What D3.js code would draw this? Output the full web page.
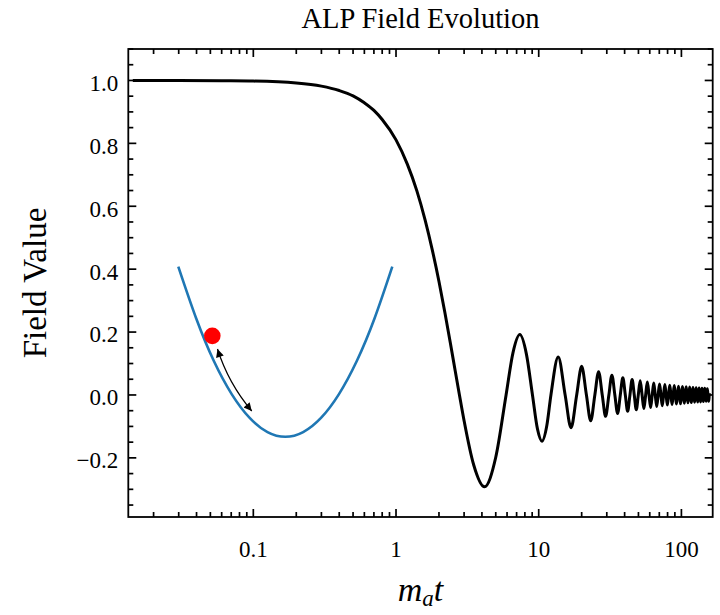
<!DOCTYPE html>
<html>
<head>
<meta charset="utf-8">
<script src="https://cdn.jsdelivr.net/npm/d3@7"></script>
<style>
  html, body { margin: 0; padding: 0; background: #fff; }
  svg { display: block; }
  text { font-family: "Liberation Serif", "DejaVu Serif", serif; fill: #000; }
</style>
</head>
<body>
<div id="chart"></div>
<script>
// ---- data ----
// black curve: field value vs m_a t (flat, roll-down, then damped oscillation)
const fieldT = [
  0.0143, 0.03, 0.06, 0.1, 0.2, 0.3, 0.4, 0.5, 0.6, 0.7, 0.8, 1.0, 1.2, 1.4, 1.6, 1.8,
  2.0, 2.2, 2.4, 2.6, 2.783, 3.0, 3.5, 4.168, 5.0, 5.906, 6.6, 7.373, 8.2, 9.042,
  9.8, 10.541, 11.4, 12.18, 13.696, 15.32, 16.847, 18.457, 19.995, 21.598, 23.141,
  24.74, 26.286, 27.881, 29.43, 31.023, 32.574, 34.165, 35.718, 37.306, 38.86,
  40.448, 42.003, 43.59, 45.146, 46.731, 48.288, 49.873, 51.43, 53.014, 54.573,
  56.156, 57.716, 59.297, 60.857, 62.439, 64.0, 65.58, 67.141, 68.722, 70.284,
  71.863, 73.425, 75.005, 76.567, 78.147, 79.709, 81.288, 82.851, 84.43, 85.993,
  87.571, 89.135, 90.713, 92.277, 93.855, 95.418, 96.996, 98.56, 100.14, 101.7,
  103.28, 104.84, 106.42, 107.99, 109.56, 111.13, 112.7, 114.27, 115.85, 117.41,
  118.99, 120.55, 122.13, 123.69, 125.27, 126.84, 128.41, 129.98, 131.55, 133.12,
  134.7, 136.26, 137.84, 139.4, 140.98, 142.54, 144.12, 145.68, 147.26, 148.83,
  150.4, 151.97, 153.54, 155.11, 157.0
];
const fieldValue = [
  1.0, 1.0, 0.999, 0.998, 0.992, 0.982, 0.968, 0.951, 0.929, 0.905, 0.876, 0.811, 0.734, 0.649, 0.556, 0.459,
  0.361, 0.262, 0.167, 0.076, 0.0, -0.082, -0.222, -0.292, -0.198, 0.0, 0.134, 0.192, 0.130, 0.0,
  -0.108, -0.147, -0.097, 0.0, 0.121, 0.0, -0.104, 0.0, 0.091, 0.0, -0.082,
  0.0, 0.074, 0.0, -0.068, 0.0, 0.063, 0.0, -0.059, 0.0, 0.055,
  0.0, -0.052, 0.0, 0.049, 0.0, -0.047, 0.0, 0.045, 0.0, -0.043,
  0.0, 0.041, 0.0, -0.040, 0.0, 0.038, 0.0, -0.037, 0.0, 0.035,
  0.0, -0.034, 0.0, 0.033, 0.0, -0.032, 0.0, 0.031, 0.0, -0.030,
  0.0, 0.030, 0.0, -0.029, 0.0, 0.028, 0.0, -0.028, 0.0, 0.027,
  0.0, -0.026, 0.0, 0.026, 0.0, -0.025, 0.0, 0.025, 0.0, -0.024,
  0.0, 0.024, 0.0, -0.023, 0.0, 0.023, 0.0, -0.022, 0.0, 0.022,
  0.0, -0.022, 0.0, 0.021, 0.0, -0.021, 0.0, 0.021, 0.0, -0.020,
  0.0, 0.020, 0.0, -0.020, 0.006
];

// blue sketch of the potential well
const potentialT = [0.0298, 0.0398, 0.053, 0.0707, 0.0943, 0.1257, 0.1676, 0.2235, 0.298, 0.3974, 0.53, 0.7067, 0.942];
const potentialValue = [0.408, 0.243, 0.107, 0.002, -0.073, -0.118, -0.133, -0.118, -0.073, 0.002, 0.107, 0.243, 0.408];

// red ball and the double-headed arrow beside it
const ballPoint = [0.0516, 0.188];
const arrowFrom = [0.0561, 0.146];
const arrowTo = [0.0975, -0.051];

// axes
const xDomain = [0.0133, 165.7];
const yDomain = [-0.388, 1.1];
const xTickValues = [0.1, 1, 10, 100];
const xTickLabels = ["0.1", "1", "10", "100"];
const yTickValues = [-0.2, 0.0, 0.2, 0.4, 0.6, 0.8, 1.0];
const yTickLabels = ["\u22120.2", "0.0", "0.2", "0.4", "0.6", "0.8", "1.0"];

// ---- layout ----
const width = 720;
const height = 615;
const margin = { top: 49, right: 7.3, bottom: 98, left: 128.3 };
const chartWidth = width - margin.left - margin.right;
const chartHeight = height - margin.top - margin.bottom;
const majorLen = 8;
const minorLen = 5;

const svg = d3.select("#chart").append("svg")
    .attr("width", width)
    .attr("height", height);

const g = svg.append("g")
    .attr("transform", `translate(${margin.left}, ${margin.top})`);

// 1) Scales
const x = d3.scaleLog().domain(xDomain).range([0, chartWidth]);
const y = d3.scaleLinear().domain(yDomain).range([chartHeight, 0]);

// minor ticks: 2..9 in each decade, every 0.05 on y
const xMinor = x.ticks(20).filter(v => !xTickValues.some(m => Math.abs(m - v) / m < 1e-9));
const yMinor = d3.range(-0.35, 1.1001, 0.05)
    .map(v => +v.toFixed(2))
    .filter(v => !yTickValues.some(m => Math.abs(m - v) < 1e-9));

// 2) Clip
const defs = svg.append("defs");
defs.append("clipPath").attr("id", "plot-clip")
    .append("rect").attr("width", chartWidth).attr("height", chartHeight);

// 3) Curves
const line = d3.line()
    .x(d => x(d[0]))
    .y(d => y(d[1]));

g.append("path")
    .datum(fieldT.map((t, i) => [t, fieldValue[i]]))
    .attr("clip-path", "url(#plot-clip)")
    .attr("fill", "none")
    .attr("stroke", "#000")
    .attr("stroke-width", 3)
    .attr("stroke-linejoin", "round")
    .attr("d", line.curve(d3.curveMonotoneX));

g.append("path")
    .datum(potentialT.map((t, i) => [t, potentialValue[i]]))
    .attr("fill", "none")
    .attr("stroke", "#1f77b4")
    .attr("stroke-width", 2.6)
    .attr("d", line.curve(d3.curveNatural));

// 4) Ball + arrow
g.append("circle")
    .attr("cx", x(ballPoint[0]))
    .attr("cy", y(ballPoint[1]))
    .attr("r", 8.3)
    .attr("fill", "#ff0000");

defs.append("marker")
    .attr("id", "arrow-head")
    .attr("viewBox", "0 0 10 10")
    .attr("refX", 10)
    .attr("refY", 5)
    .attr("markerUnits", "userSpaceOnUse")
    .attr("markerWidth", 10)
    .attr("markerHeight", 8)
    .attr("orient", "auto-start-reverse")
    .append("path")
    .attr("d", "M0,0 L10,5 L0,10 z")
    .attr("fill", "#000");

const ax1 = x(arrowFrom[0]), ay1 = y(arrowFrom[1]);
const ax2 = x(arrowTo[0]), ay2 = y(arrowTo[1]);
const cxA = (ax1 + ax2) / 2 - 0.1 * (ay2 - ay1);
const cyA = (ay1 + ay2) / 2 + 0.1 * (ax2 - ax1);
g.append("path")
    .attr("d", `M${ax1},${ay1} Q${cxA},${cyA} ${ax2},${ay2}`)
    .attr("fill", "none")
    .attr("stroke", "#000")
    .attr("stroke-width", 1.2)
    .attr("marker-start", "url(#arrow-head)")
    .attr("marker-end", "url(#arrow-head)");

// 5) Ticks - inward on all four sides, drawn as plain lines
const ticks = g.append("g").attr("stroke", "#000").attr("stroke-width", 1.7);

function xTicks(values, len) {
    values.forEach(v => {
        const px = x(v);
        ticks.append("line").attr("x1", px).attr("x2", px)
            .attr("y1", chartHeight).attr("y2", chartHeight - len);
        ticks.append("line").attr("x1", px).attr("x2", px)
            .attr("y1", 0).attr("y2", len);
    });
}
function yTicks(values, len) {
    values.forEach(v => {
        const py = y(v);
        ticks.append("line").attr("y1", py).attr("y2", py)
            .attr("x1", 0).attr("x2", len);
        ticks.append("line").attr("y1", py).attr("y2", py)
            .attr("x1", chartWidth).attr("x2", chartWidth - len);
    });
}
xTicks(xTickValues, majorLen);
xTicks(xMinor, minorLen);
yTicks(yTickValues, majorLen);
yTicks(yMinor, minorLen);

// tick labels
g.append("g").selectAll("text")
    .data(xTickValues)
    .join("text")
    .attr("x", d => x(d))
    .attr("y", chartHeight + 39.5)
    .attr("text-anchor", "middle")
    .style("font-size", "23px")
    .text((d, i) => xTickLabels[i]);

g.append("g").selectAll("text")
    .data(yTickValues)
    .join("text")
    .attr("x", -10)
    .attr("y", d => y(d))
    .attr("dy", "0.45em")
    .attr("text-anchor", "end")
    .style("font-size", "23px")
    .text((d, i) => yTickLabels[i]);

// frame
g.append("rect")
    .attr("width", chartWidth)
    .attr("height", chartHeight)
    .attr("fill", "none")
    .attr("stroke", "#000")
    .attr("stroke-width", 1.8);

// 6) Titles
svg.append("text")
    .attr("x", margin.left + chartWidth / 2)
    .attr("y", 28)
    .attr("text-anchor", "middle")
    .style("font-size", "28.5px")
    .text("ALP Field Evolution");

svg.append("text")
    .attr("transform", `translate(46, ${margin.top + chartHeight / 2}) rotate(-90)`)
    .attr("text-anchor", "middle")
    .style("font-size", "33px")
    .text("Field Value");

const xLabel = svg.append("text")
    .attr("x", margin.left + chartWidth / 2)
    .attr("y", 601)
    .attr("text-anchor", "middle")
    .style("font-size", "34px")
    .style("font-style", "italic");
xLabel.append("tspan").text("m");
xLabel.append("tspan").attr("dy", 5).style("font-size", "23px").text("a");
xLabel.append("tspan").attr("dy", -5).text("t");
</script>
</body>
</html>
